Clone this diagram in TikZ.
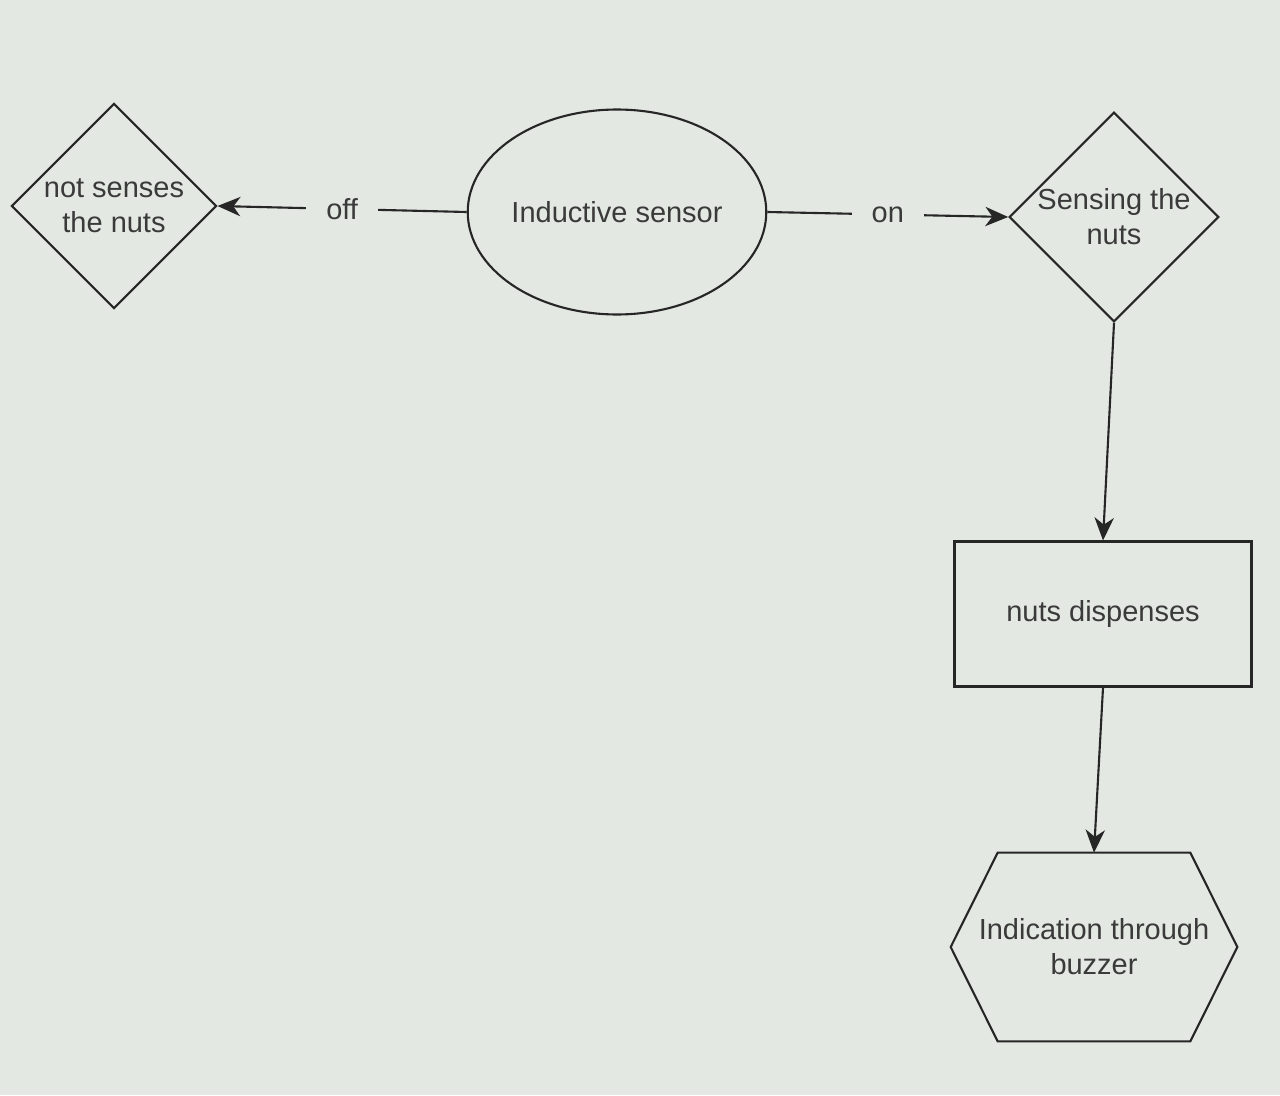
\documentclass[tikz,border=0pt]{standalone}
\usepackage{fontspec}
\setmainfont{Liberation Sans}
\usetikzlibrary{shapes.geometric,arrows.meta}
\definecolor{screen}{HTML}{E3E8E2}
\definecolor{ink}{HTML}{262626}
\definecolor{txt}{HTML}{3A3A3A}
\tikzset{
	box/.style={draw=ink, line width=1.2pt, text=txt, align=center, inner sep=0pt,
		font=\fontsize{16.5}{20}\selectfont},
	decision/.style={box, diamond, minimum width=4.1cm, minimum height=4.1cm},
	flow/.style={draw=ink, line width=1.2pt, -{Stealth[length=13pt,width=11pt,inset=4pt]}},
	lbl/.style={fill=screen, text=txt, inner xsep=0.4cm, inner ysep=2pt,
		font=\fontsize{16.5}{20}\selectfont}
}
\begin{document}
\begin{tikzpicture}[x=0.02cm, y=-0.02cm]
\useasboundingbox[fill=screen] (0, 0) rectangle (1280, 1095);
	% top row
	\node[decision] (nosense) at (114, 206) {not senses\\the nuts};
	\node[box, ellipse, minimum width=5.96cm, minimum height=4.1cm] (sensor) at (617, 212) {Inductive sensor};
	\node[decision] (sense) at (1114, 217) {Sensing the\\nuts};
	% right column
	\node[box, rectangle, minimum width=5.94cm, minimum height=2.9cm] (disp) at (1103, 614) {nuts dispenses};
	\node[text=txt, align=center, minimum width=5.72cm, minimum height=3.76cm,
		font=\fontsize{16.5}{20}\selectfont] (buzz) at (1094, 947) {Indication through\\buzzer};
	\draw[ink, line width=1.2pt] ([xshift=0.94cm]buzz.north west) -- ([xshift=-0.94cm]buzz.north east)
		-- (buzz.east) -- ([xshift=-0.94cm]buzz.south east) -- ([xshift=0.94cm]buzz.south west)
		-- (buzz.west) -- cycle;
	% connectors
	\draw[flow] (sensor.west) -- node[lbl] {off} (nosense.east);
	\draw[flow] (sensor.east) -- node[lbl] {on} (sense.west);
	\draw[flow] (sense.south) -- (disp.north);
	\draw[flow] (disp.south) -- (buzz.north);
\end{tikzpicture}
\end{document}
